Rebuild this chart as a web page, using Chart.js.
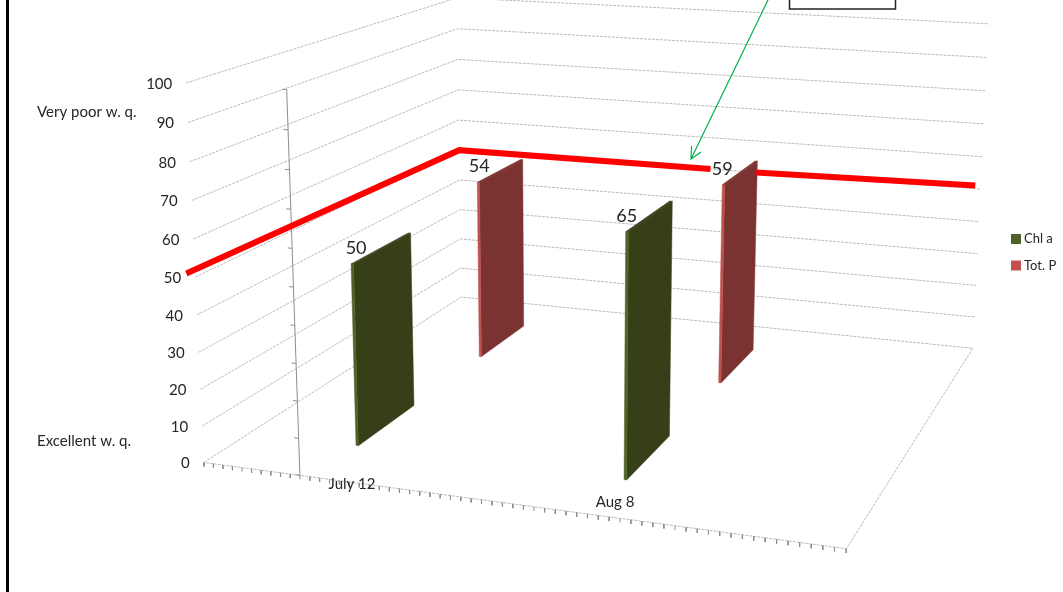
<!DOCTYPE html>
<html lang="en">
    <head>
        <meta charset="UTF-8" />
        <title>Water quality 3D columns</title>
        <script src="https://cdn.jsdelivr.net/npm/chart.js"></script>
        <style>
            body {
                margin: 0;
                background: white;
                overflow: hidden;
            }
        </style>
    </head>
    <body>
        <canvas id="chart" width="1063" height="592"></canvas>

        <script>
            // data
            const categories = ['July 12', 'Aug 8'];
            const categoryDays = [11, 38]; // days after July 1
            const seriesNames = ['Chl a', 'Tot. P'];
            const chlA = [50, 65];
            const totP = [54, 59];
            const yTicks = [0, 10, 20, 30, 40, 50, 60, 70, 80, 90, 100];
            const dayCount = 61;

            // hand drawn red limit line, in chart units (day, value, depth)
            const limitDays = [0, 0, 30.7];
            const limitValues = [52, 50, 50];
            const limitDepths = [-0.025, 1, 1];
            const limitDays2 = [36, 60.4];
            const limitValues2 = [50, 51];
            const limitDepths2 = [1, 1];

            // camera calibration: cube corners [day, value, depth] -> pixel
            const calibration = [
                [0, 0, 0, 204, 463],
                [61, 0, 0, 846, 549],
                [61, 0, 1, 973, 348],
                [0, 0, 1, 461, 297],
                [0, 100, 0, 186, 83],
                [0, 100, 1, 457, -2],
                [61, 100, 1, 989, 24],
                [10, 0, 0, 300, 475],
                [10, 100, 0, 287, 89],
            ];

            const axisDay = 10;
            const barLeft = 0.25; // offset of the column inside its day
            const barWidth = 0.25;
            const barDepths = [
                [0.15, 0.36],
                [0.65, 0.855],
            ];
            const frontColors = ['#4f6228', '#c0504d'];
            const sideColors = ['#363f17', '#7b3331'];
            const gridColor = '#bcbcbc';
            const tickColor = '#8c8c8c';
            const textColor = '#262626';
            const fontName = 'Lato, sans-serif';

            // least squares fit of the 3x4 projection matrix
            function fitCamera(rows) {
                const n = 11;
                const A = Array.from({ length: n }, () => new Array(n + 1).fill(0));
                const addRow = (r, b) => {
                    for (let i = 0; i < n; i++) {
                        for (let j = 0; j < n; j++) A[i][j] += r[i] * r[j];
                        A[i][n] += r[i] * b;
                    }
                };
                rows.forEach(([d, v, z, px, py]) => {
                    const u = d / dayCount;
                    const w = v / 100;
                    const X = px / 1000;
                    const Y = py / 1000;
                    addRow([u, w, z, 1, 0, 0, 0, 0, -X * u, -X * w, -X * z], X);
                    addRow([0, 0, 0, 0, u, w, z, 1, -Y * u, -Y * w, -Y * z], Y);
                });
                for (let i = 0; i < n; i++) {
                    let best = i;
                    for (let k = i + 1; k < n; k++) {
                        if (Math.abs(A[k][i]) > Math.abs(A[best][i])) best = k;
                    }
                    [A[i], A[best]] = [A[best], A[i]];
                    for (let k = 0; k < n; k++) {
                        if (k === i) continue;
                        const f = A[k][i] / A[i][i];
                        for (let j = i; j <= n; j++) A[k][j] -= f * A[i][j];
                    }
                }
                return A.map((row, i) => row[n] / row[i]);
            }

            const cam = fitCamera(calibration);

            function project(day, value, depth) {
                const u = day / dayCount;
                const w = value / 100;
                const q = cam[8] * u + cam[9] * w + cam[10] * depth + 1;
                return {
                    x: (1000 * (cam[0] * u + cam[1] * w + cam[2] * depth + cam[3])) / q,
                    y: (1000 * (cam[4] * u + cam[5] * w + cam[6] * depth + cam[7])) / q,
                };
            }

            // one dataset holding many separate strokes, NaN breaks the line
            function strokes(list) {
                const out = [];
                list.forEach((s) => {
                    s.forEach((p) => out.push(project(p[0], p[1], p[2])));
                    out.push({ x: NaN, y: NaN });
                });
                return out;
            }

            const lineSet = (data, color, width, order, dash) => ({
                data: data,
                showLine: true,
                fill: false,
                borderColor: color,
                borderWidth: width,
                borderDash: dash || [],
                pointRadius: 0,
                order: order,
            });

            const polygon = (corners, color, order) => ({
                data: corners.map((p) => project(p[0], p[1], p[2])),
                showLine: true,
                fill: 'shape',
                backgroundColor: color,
                borderColor: color,
                borderWidth: 0.5,
                pointRadius: 0,
                order: order,
            });

            const datasets = [];

            // walls
            const gridLines = [];
            yTicks.forEach((v) => {
                gridLines.push([
                    [0, v, 0],
                    [0, v, 1],
                    [dayCount, v, 1],
                ]);
            });
            gridLines.push([
                [dayCount, 0, 1],
                [dayCount, 0, 0],
                [0, 0, 0],
            ]);
            datasets.push(lineSet(strokes(gridLines), gridColor, 1, 20, [3, 1]));

            // value axis and tick marks
            const axisMarks = [
                [
                    [axisDay, 0, 0],
                    [axisDay, 100, 0],
                ],
            ];
            yTicks.forEach((v) => {
                axisMarks.push([
                    [axisDay, v, 0],
                    [axisDay - 0.45, v, 0],
                ]);
            });
            for (let d = 0; d <= dayCount; d++) {
                axisMarks.push([
                    [d, 0, 0],
                    [d, -1.1, 0],
                ]);
            }
            datasets.push(lineSet(strokes(axisMarks), tickColor, 1, 19));

            // columns
            [chlA, totP].forEach((values, s) => {
                const [z0, z1] = barDepths[s];
                values.forEach((v, i) => {
                    const left = categoryDays[i] + barLeft;
                    const right = left + barWidth;
                    const order = 10 - s;
                    datasets.push(
                        polygon(
                            [
                                [right, 0, z0],
                                [right, 0, z1],
                                [right, v, z1],
                                [right, v, z0],
                                [right, 0, z0],
                            ],
                            sideColors[s],
                            order
                        )
                    );
                    datasets.push(
                        polygon(
                            [
                                [left, v, z0],
                                [right, v, z0],
                                [right, v, z1],
                                [left, v, z1],
                                [left, v, z0],
                            ],
                            sideColors[s],
                            order
                        )
                    );
                    datasets.push(
                        polygon(
                            [
                                [left, 0, z0],
                                [right, 0, z0],
                                [right, v, z0],
                                [left, v, z0],
                                [left, 0, z0],
                            ],
                            frontColors[s],
                            order - 0.5
                        )
                    );
                });
            });

            // red limit line sits on top
            const limitPoints = (days, values, depths) =>
                days.map((d, i) => project(d, values[i], depths[i]));
            datasets.push(lineSet(limitPoints(limitDays, limitValues, limitDepths), '#ff0000', 6, 1));
            datasets.push(lineSet(limitPoints(limitDays2, limitValues2, limitDepths2), '#ff0000', 6, 1));

            const extras = {
                id: 'extras',
                afterDatasetsDraw(chart) {
                    const c = chart.ctx;
                    c.save();

                    // frame on the left and the cut off note box
                    c.fillStyle = '#000';
                    c.fillRect(6, 0, 3, 592);
                    c.strokeStyle = '#222';
                    c.lineWidth = 1.5;
                    c.strokeRect(789.5, -5, 106, 14);

                    // green arrow
                    c.strokeStyle = '#00b050';
                    c.lineWidth = 1.2;
                    c.beginPath();
                    c.moveTo(768, 0);
                    c.lineTo(691, 159);
                    c.moveTo(691.5, 146);
                    c.lineTo(691, 159);
                    c.lineTo(701, 152);
                    c.stroke();

                    c.fillStyle = textColor;
                    c.textBaseline = 'middle';

                    // value labels
                    c.font = `15px ${fontName}`;
                    c.textAlign = 'right';
                    yTicks.forEach((v) => {
                        const p = project(0, v, 0);
                        c.fillText(String(v), p.x - 14, p.y + 1);
                    });

                    c.textAlign = 'left';
                    c.fillText('Very poor w. q.', 37, 112);
                    c.fillText('Excellent w. q.', 37, 441);

                    c.textAlign = 'center';
                    c.fillText(categories[0], 352, 484);
                    c.fillText(categories[1], 615, 502);

                    // numbers over the columns
                    const labelShift = [
                        [5, 1],
                        [2, 0],
                    ];
                    c.font = `18px ${fontName}`;
                    [chlA, totP].forEach((values, s) => {
                        values.forEach((v, i) => {
                            const p = project(categoryDays[i] + barLeft, v, barDepths[s][0]);
                            c.fillText(String(v), p.x + labelShift[s][i], p.y - 16);
                        });
                    });

                    // legend
                    c.font = `13px ${fontName}`;
                    c.textAlign = 'left';
                    seriesNames.forEach((name, s) => {
                        const y = 239 + s * 26.5;
                        c.fillStyle = frontColors[s];
                        c.fillRect(1011, y - 5, 10, 10);
                        c.fillStyle = textColor;
                        c.fillText(name, 1024, y);
                    });

                    c.restore();
                },
            };

            new Chart(document.getElementById('chart'), {
                type: 'scatter',
                data: { datasets: datasets },
                plugins: [extras],
                options: {
                    responsive: false,
                    animation: false,
                    layout: { padding: 0 },
                    plugins: { legend: { display: false }, tooltip: { enabled: false } },
                    scales: {
                        x: { type: 'linear', min: 0, max: 1063, display: false },
                        y: { type: 'linear', min: 0, max: 592, reverse: true, display: false },
                    },
                },
            });
        </script>
    </body>
</html>
